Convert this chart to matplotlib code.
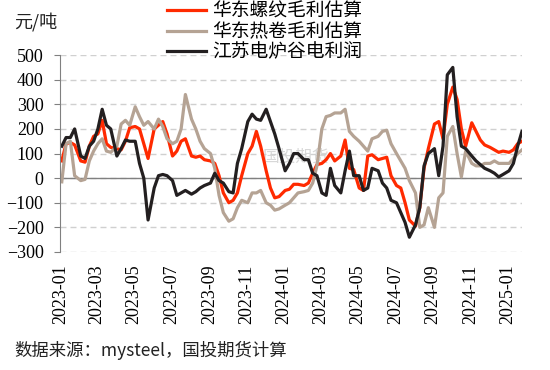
import matplotlib.pyplot as plt
import matplotlib.dates as mdates
import pandas as pd

plt.rcParams['font.family'] = ['Noto Sans CJK SC', 'DejaVu Sans']

# weekly readings, 4 per month, 2023-01 .. 2025-01
months = pd.period_range('2023-01', '2025-01', freq='M')
week_days = [3, 10, 17, 24]
dates = [pd.Timestamp(year=p.year, month=p.month, day=d) for p in months for d in week_days]

# 华东螺纹毛利估算
rebar = [70, 140, 145, 135,   70, 65, 130, 170,   180, 235, 140, 125,   120, 115, 150, 205,
         210, 200, 140, 80,   200, 215, 230, 180,   90, 110, 150, 160,   90, 85, 90, 75,
         70, 60, 10, -60,     -100, -90, -60, 10,   100, 130, 190, 130,  30, -40, -80, -75,
         -50, -45, -25, -25,  -30, -20, 20, 55,     60, 75, 100, 70,     90, 155, 40, 35,
         -40, -50, 90, 95,    75, 80, 85, 10,       -30, -40, -100, -170, -195, -120, 40, 120,
         220, 230, 160, 300,  370, 320, 200, 130,   225, 190, 155, 135,  125, 115, 105, 110,
         105, 115, 140, 150]
# 华东热卷毛利估算
hrc = [-15, 140, 150, 10,    -10, -5, 70, 110,    140, 160, 110, 105,  130, 220, 235, 215,
       290, 250, 215, 230,   200, 240, 210, 160,  140, 150, 200, 340,  240, 200, 150, 120,
       100, 40, -70, -140,   -175, -165, -120, -90, -100, -60, -60, -50, -100, -110, -130, -125,
       -110, -100, -80, -60, -55, -50, -20, 50,   200, 250, 255, 265,  265, 280, 190, 170,
       150, 130, 110, 160,   170, 190, 195, 140,  100, 70, 40, -10,    -60, -200, -190, -120,
       -200, -80, -60, 170,  210, 100, 5, 110,    60, 50, 50, 60,      60, 70, 60, 60,
       60, 80, 100, 115]
# 江苏电炉谷电利润
eaf = [130, 165, 165, 200,   90, 80, 130, 150,    200, 280, 215, 200,  90, 120, 155, 150,
       150, 60, 0, -170,     -40, 10, 15, 10,     -10, -70, -60, -50,  -65, -55, -40, -30,
       -20, 20, -10, -20,    -55, -60, 60, 120,   230, 260, 240, 235,  280, 230, 180, 120,
       30, 60, 100, 100,     75, 75, 20, 10,      -60, -70, 40, -30,   -60, 30, 110, 10,
       10, -50, -40, 40,     30, -20, -40, -90,   -100, -140, -180, -240, -190, -120, 50, 100,
       120, 10, 130, 420,    450, 250, 130, 120,  90, 70, 55, 40,      30, 20, 5, 15,
       30, 60, 130, 190]

labels = ['华东螺纹毛利估算', '华东热卷毛利估算', '江苏电炉谷电利润']
colors = ['#FF2A00', '#B5A394', '#231F20']

fig = plt.figure(figsize=(5.5, 3.7), dpi=100)
ax = fig.add_axes([0.109, 0.319, 0.840, 0.532])

for s, lab, c in zip([rebar, hrc, eaf], labels, colors):
    ax.plot(dates, s, color=c, lw=2.3, label=lab, solid_joinstyle='round')

ax.axhline(0, color='#808080', lw=1, zorder=1)
ax.set_ylim(-300, 500)
ax.set_yticks(range(-300, 501, 100))
ax.set_xlim(pd.Timestamp('2022-12-31'), pd.Timestamp('2025-01-24'))
ax.xaxis.set_major_locator(mdates.MonthLocator(bymonth=[1, 3, 5, 7, 9, 11]))
ax.xaxis.set_major_formatter(mdates.DateFormatter('%Y-%m'))
ax.grid(axis='y', ls=(0, (4.3, 2.9)), color='#D0D0D0', lw=1, zorder=0)
ax.set_axisbelow(True)

for side in ['top', 'right', 'bottom']:
    ax.spines[side].set_visible(False)
ax.spines['left'].set_color('#808080')

ax.tick_params(axis='x', length=0, pad=9, labelrotation=90, labelsize=13,
               labelfontfamily='Liberation Serif')
ax.tick_params(axis='y', length=4.3, color='#808080', pad=7.5, labelsize=13,
               labelfontfamily='Liberation Serif')

# watermark
ax.text(0.51, 0.48, '国投期货', transform=ax.transAxes, fontsize=12, color='#D8D8D8',
        ha='center', va='center', zorder=0)

fig.legend(loc='upper left', bbox_to_anchor=(167 / 550, 1 - 1 / 370), frameon=False,
           fontsize=13.5, borderpad=0, borderaxespad=0, labelspacing=-0.05,
           handlelength=2.1, handletextpad=0.3)

fig.text(14 / 550, 1 - 22 / 370, '元/吨', fontsize=13, va='center', color='#222222')
fig.text(14 / 550, 1 - 350 / 370, '数据来源：mysteel，国投期货计算', fontsize=12.5,
         va='center', color='#222222')

fig.savefig('out.png', dpi=100)
